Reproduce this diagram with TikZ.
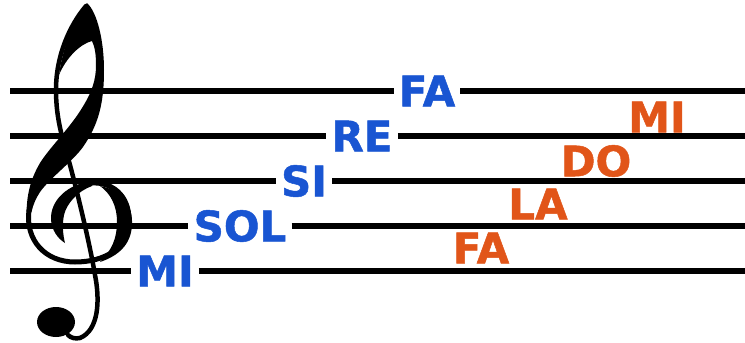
\documentclass[tikz,border=0pt]{standalone}
\usepackage{fontspec}
\setmainfont{DejaVu Sans}
\newfontfamily\notefont[BoldFeatures = {FakeBold = 1.2}]{DejaVu Sans}
\definecolor{noteblue}{RGB}{25,85,210}
\definecolor{noteorange}{RGB}{225,85,25}

\begin{document}
\begin{tikzpicture}[x = 1pt, y = -1pt, line width = 6.5pt,
	linenote/.style = {text = noteblue, font = \notefont\bfseries\fontsize{42}{42}\selectfont, inner xsep = 2pt, inner ysep = 0pt},
	spacenote/.style = {text = noteorange, font = \notefont\bfseries\fontsize{42}{42}\selectfont, inner sep = 0pt}]
		\useasboundingbox (0, 0) rectangle (745, 343);
		%%%%%%%%%%%%%
		\node [linenote] (fa) at (427, 91) {FA};
		\node [linenote] (re) at (362, 136) {RE};
		\node [linenote] (si) at (304, 181) {SI};
		\node [linenote] (sol) at (240, 226) {SOL};
		\node [linenote] (mi) at (165, 271) {MI};
		%%%%%%%%%%%%%
		\node [spacenote] (fa2) at (481, 248) {FA};
		\node [spacenote] (la) at (538, 204) {LA};
		\node [spacenote] (do) at (596, 161) {DO};
		\node [spacenote] (mi2) at (657, 117) {MI};
		%%%%%%%%%%%%%
		\draw (10, 91) to (fa); \draw (fa) to (745, 91);
		\draw (10, 136) to (re); \draw (re) to (745, 136);
		\draw (10, 181) to (si); \draw (si) to (745, 181);
		\draw (10, 226) to (sol); \draw (sol) to (745, 226);
		\draw (10, 271) to (mi); \draw (mi) to (745, 271);
		%%%%%%%%%%%%%
		% clef: stem
		\draw [line width = 4.5pt, line cap = round]
			(86, 6) .. controls (70, 25) and (56, 55) .. (56, 90)
			.. controls (56, 120) and (63, 140) .. (70, 165)
			.. controls (78, 195) and (90, 245) .. (95, 275)
			.. controls (100, 300) and (99, 330) .. (80, 338)
			.. controls (75, 339) and (71, 338) .. (68, 335);
		% clef: ring
		\draw [line width = 5pt, line cap = round]
			(29, 210) .. controls (25, 240) and (45, 262) .. (75, 262)
			.. controls (105, 262) and (129, 248) .. (129, 220)
			.. controls (129, 195) and (112, 182) .. (92, 183);
		% clef: tip, right side and diagonal
		\fill (87, 3) .. controls (97, 12) and (104, 40) .. (104, 70)
			.. controls (104, 105) and (98, 125) .. (83, 147)
			.. controls (72, 162) and (50, 178) .. (40, 192)
			.. controls (36, 198) and (33, 205) .. (31.5, 212)
			-- (26.5, 212)
			.. controls (27, 195) and (30, 180) .. (40, 163)
			.. controls (50, 147) and (70, 128) .. (82, 108)
			.. controls (92, 92) and (96, 80) .. (96, 65)
			.. controls (96, 55) and (95, 47) .. (92, 41)
			.. controls (80, 44) and (66, 58) .. (59, 75)
			.. controls (63, 45) and (76, 15) .. (87, 3) -- cycle;
		% clef: right side of ring
		\fill (100, 186) .. controls (122, 190) and (133, 205) .. (132, 225)
			.. controls (131, 245) and (118, 256) .. (100, 262)
			.. controls (112, 250) and (117, 238) .. (117, 222)
			.. controls (117, 205) and (110, 193) .. (100, 186) -- cycle;
		% clef: inner curl
		\fill (92, 181) .. controls (68, 184) and (50, 200) .. (51, 220)
			.. controls (52, 230) and (57, 238) .. (65, 243)
			.. controls (63, 235) and (62, 225) .. (64, 215)
			.. controls (67, 203) and (78, 191) .. (92, 186) -- cycle;
		\fill (56, 322) ellipse [x radius = 19pt, y radius = 15pt];
\end{tikzpicture}
\end{document}
